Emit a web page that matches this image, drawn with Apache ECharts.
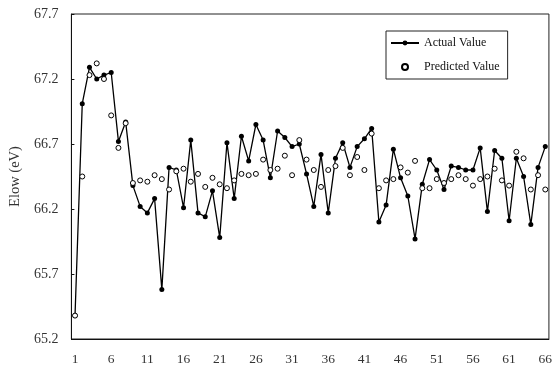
<!DOCTYPE html>
<html>
<head>
<meta charset="utf-8">
<script src="https://cdn.jsdelivr.net/npm/echarts@6/dist/echarts.min.js"></script>
<style>
  html, body { margin: 0; padding: 0; background: #fff; }
  #chart { width: 555px; height: 369px; }
</style>
</head>
<body>
<div id="chart"></div>
<script>
// Sample index 1..66
const samples = Array.from({ length: 66 }, (_, i) => String(i + 1));

// Measured Elow values (eV)
const actualValues = [
  65.38, 67.01, 67.29, 67.20, 67.23, 67.25, 66.72, 66.87, 66.38, 66.22,
  66.17, 66.28, 65.58, 66.52, 66.50, 66.21, 66.73, 66.17, 66.14, 66.34,
  65.98, 66.71, 66.28, 66.76, 66.57, 66.85, 66.73, 66.44, 66.80, 66.75,
  66.68, 66.70, 66.47, 66.22, 66.62, 66.17, 66.59, 66.71, 66.52, 66.68,
  66.74, 66.82, 66.10, 66.23, 66.66, 66.44, 66.30, 65.97, 66.39, 66.58,
  66.50, 66.35, 66.53, 66.52, 66.50, 66.50, 66.67, 66.18, 66.65, 66.59,
  66.11, 66.59, 66.45, 66.08, 66.52, 66.68
];

// Model predictions (eV)
const predictedValues = [
  65.38, 66.45, 67.23, 67.32, 67.20, 66.92, 66.67, 66.86, 66.40, 66.42,
  66.41, 66.46, 66.43, 66.35, 66.49, 66.51, 66.41, 66.47, 66.37, 66.44,
  66.39, 66.36, 66.42, 66.47, 66.46, 66.47, 66.58, 66.50, 66.51, 66.61,
  66.46, 66.73, 66.58, 66.50, 66.37, 66.50, 66.53, 66.67, 66.46, 66.60,
  66.50, 66.78, 66.36, 66.42, 66.43, 66.52, 66.48, 66.57, 66.36, 66.36,
  66.43, 66.40, 66.43, 66.46, 66.43, 66.38, 66.43, 66.45, 66.51, 66.42,
  66.38, 66.64, 66.59, 66.35, 66.46, 66.35
];

const FONT = '"Liberation Serif", "Times New Roman", serif';

const chart = echarts.init(document.getElementById('chart'), null, { renderer: 'canvas' });

chart.setOption({
  animation: false,
  backgroundColor: '#fff',
  grid: {
    left: 67, right: 5, top: 14, bottom: 30,
    show: true, borderColor: '#222', borderWidth: 1, backgroundColor: 'transparent'
  },
  legend: {
    left: 386, top: 31,
    orient: 'vertical',
    backgroundColor: '#fff',
    borderColor: '#222', borderWidth: 1, borderRadius: 0,
    padding: [6, 8, 6, 4],
    itemWidth: 28, itemHeight: 6, itemGap: 12,
    textStyle: { fontFamily: FONT, fontSize: 12, color: '#111', lineHeight: 12, padding: [0, 0, 0, 0] },
    data: ['Actual Value', 'Predicted Value']
  },
  xAxis: {
    type: 'category',
    data: samples,
    boundaryGap: true,
    axisLine: { lineStyle: { color: '#111', width: 1 } },
    axisTick: { inside: true, length: 4, interval: 4, lineStyle: { color: '#111' } },
    axisLabel: { interval: 4, margin: 13, fontFamily: FONT, fontSize: 13.5, color: '#333' },
    splitLine: { show: false }
  },
  yAxis: {
    type: 'value',
    min: 65.2, max: 67.7, interval: 0.5,
    name: 'Elow (eV)',
    nameLocation: 'middle',
    nameRotate: 90,
    nameGap: 48,
    nameTextStyle: { fontFamily: FONT, fontSize: 14.5, color: '#333' },
    axisLine: { show: true, lineStyle: { color: '#111', width: 1 } },
    axisTick: { show: true, inside: true, length: 3, lineStyle: { color: '#111' } },
    axisLabel: {
      margin: 13, fontFamily: FONT, fontSize: 14, color: '#333',
      formatter: v => v.toFixed(1)
    },
    splitLine: { show: false }
  },
  series: [
    {
      name: 'Actual Value',
      type: 'line',
      data: actualValues,
      symbol: 'circle',
      symbolSize: 5,
      showAllSymbol: true,
      lineStyle: { color: '#000', width: 1.3 },
      itemStyle: { color: '#000', borderColor: '#000', borderWidth: 0 },
      z: 2
    },
    {
      name: 'Predicted Value',
      type: 'scatter',
      data: predictedValues,
      symbol: 'circle',
      symbolSize: 5,
      itemStyle: { color: '#fff', borderColor: '#000', borderWidth: 1, opacity: 1 },
      z: 3
    }
  ]
});
</script>
</body>
</html>
